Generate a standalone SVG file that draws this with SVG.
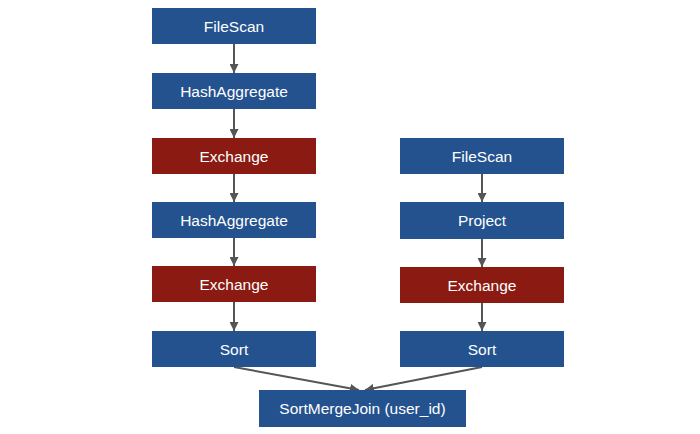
<svg xmlns="http://www.w3.org/2000/svg" width="700" height="434" viewBox="0 0 700 434">
<style>
.b{fill:#23528f}
.r{fill:#8b1a12}
text{font-family:"Liberation Sans",Arial,sans-serif;font-size:15.5px;fill:#ffffff;text-anchor:middle;dominant-baseline:central}
.c line{stroke:#555555;stroke-width:2;marker-end:url(#ah)}
</style>
<defs>
<marker id="ah" markerWidth="9" markerHeight="9" refX="9" refY="4.5" orient="auto" markerUnits="userSpaceOnUse" viewBox="0 0 9 9">
<path d="M0,0 L9,4.5 L0,9 Z" fill="#555555"/>
</marker>
</defs>
<rect width="700" height="434" fill="#ffffff"/>
<g class="c" id="connectors">
<line x1="234" y1="44" x2="234" y2="73"/>
<line x1="234" y1="109" x2="234" y2="138"/>
<line x1="234" y1="174" x2="234" y2="202"/>
<line x1="234" y1="238" x2="234" y2="266"/>
<line x1="234" y1="302" x2="234" y2="331"/>
<line x1="482" y1="174" x2="482" y2="202"/>
<line x1="482" y1="239" x2="482" y2="267"/>
<line x1="482" y1="303" x2="482" y2="331"/>
<line x1="234" y1="367" x2="359" y2="390"/>
<line x1="482" y1="367" x2="365" y2="390"/>
</g>
<g id="n1"><rect class="b" x="152" y="8" width="164" height="36"/><text x="234" y="26">FileScan</text></g>
<g id="n2"><rect class="b" x="152" y="73" width="164" height="36"/><text x="234" y="91">HashAggregate</text></g>
<g id="n3"><rect class="r" x="152" y="138" width="164" height="36"/><text x="234" y="156">Exchange</text></g>
<g id="n4"><rect class="b" x="152" y="202" width="164" height="36"/><text x="234" y="220">HashAggregate</text></g>
<g id="n5"><rect class="r" x="152" y="266" width="164" height="36"/><text x="234" y="284">Exchange</text></g>
<g id="n6"><rect class="b" x="152" y="331" width="164" height="36"/><text x="234" y="349">Sort</text></g>
<g id="n7"><rect class="b" x="400" y="138" width="164" height="36"/><text x="482" y="156">FileScan</text></g>
<g id="n8"><rect class="b" x="400" y="202" width="164" height="37"/><text x="482" y="220.5">Project</text></g>
<g id="n9"><rect class="r" x="400" y="267" width="164" height="36"/><text x="482" y="285">Exchange</text></g>
<g id="n10"><rect class="b" x="400" y="331" width="164" height="36"/><text x="482" y="349">Sort</text></g>
<g id="n11"><rect class="b" x="259" y="390" width="207" height="37"/><text x="362.5" y="408.5">SortMergeJoin (user_id)</text></g>
</svg>
